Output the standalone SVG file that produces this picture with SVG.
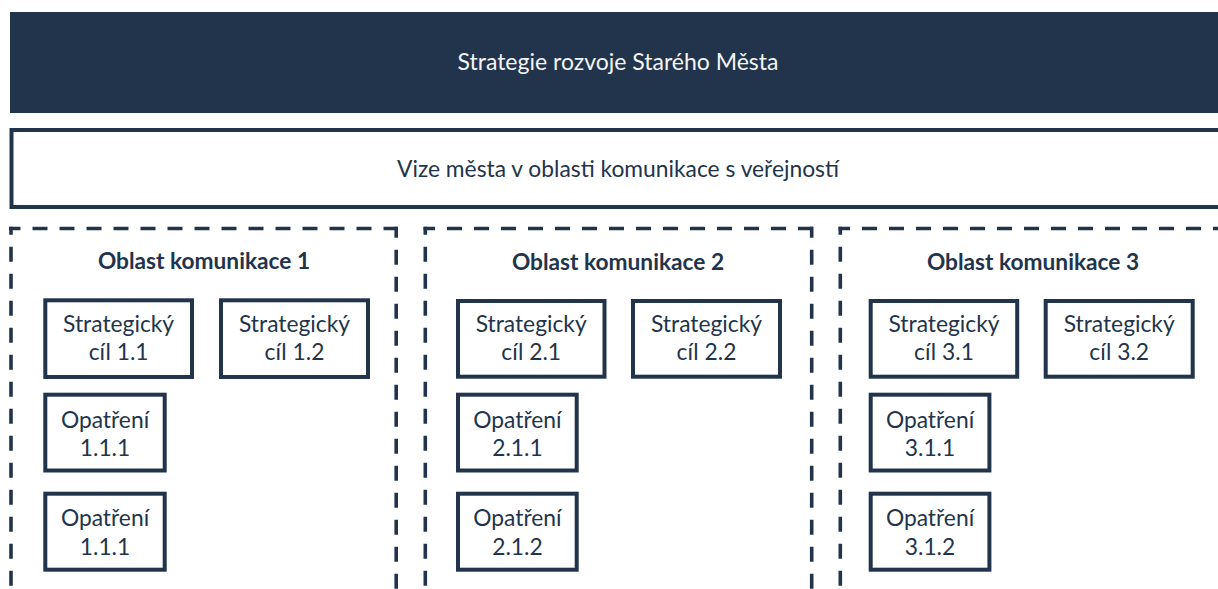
<svg xmlns="http://www.w3.org/2000/svg" width="1218" height="589" viewBox="0 0 1218 589">
<style>
  .dark { fill: #22344b; }
  .frame { fill: #ffffff; stroke: #22344b; stroke-width: 4; }
  .dash { fill: none; stroke: #22344b; stroke-width: 3.6; stroke-dasharray: 15 12; }
  .t { font-family: Lato, "Open Sans", "Liberation Sans", sans-serif; fill: #22344b; text-anchor: middle; }
  .head { font-size: 23px; fill: #f4f5f7; }
  .vis { font-size: 22.8px; }
  .area { font-size: 22.7px; font-weight: bold; }
  .box { font-size: 22.8px; }
</style>
<rect width="1218" height="589" fill="#ffffff"/>

<g id="strategy">
  <rect class="dark" x="10" y="12" width="1220" height="101"/>
  <text class="t head" x="618" y="70">Strategie rozvoje Starého Města</text>
</g>

<g id="vision">
  <rect class="frame" x="11.5" y="130" width="1220" height="77"/>
  <text class="t vis" x="618" y="177">Vize města v oblasti komunikace s veřejností</text>
</g>

<g id="area1">
  <line class="dash" x1="9" y1="228.5" x2="398" y2="228.5" stroke-dashoffset="3.5"/>
  <line class="dash" x1="11" y1="226.7" x2="11" y2="600" stroke-dashoffset="7"/>
  <line class="dash" x1="396.2" y1="226.7" x2="396.2" y2="600" stroke-dashoffset="4"/>
  <text class="t area" x="204" y="269">Oblast komunikace 1</text>
</g>
<g id="area2">
  <line class="dash" x1="423.5" y1="228.5" x2="813.5" y2="228.5" stroke-dashoffset="3.5"/>
  <line class="dash" x1="425.3" y1="226.7" x2="425.3" y2="600" stroke-dashoffset="7"/>
  <line class="dash" x1="811.7" y1="226.7" x2="811.7" y2="600" stroke-dashoffset="4"/>
  <text class="t area" x="618" y="270">Oblast komunikace 2</text>
</g>
<g id="area3">
  <line class="dash" x1="838.5" y1="228.5" x2="1230" y2="228.5" stroke-dashoffset="3.5"/>
  <line class="dash" x1="840.3" y1="226.7" x2="840.3" y2="600" stroke-dashoffset="7"/>
  <text class="t area" x="1033" y="270">Oblast komunikace 3</text>
</g>

<g id="cil-1-1">
  <rect class="frame" x="45.3" y="300.3" width="146.7" height="76.7"/>
  <text class="t box" x="118.6" y="332">Strategický</text>
  <text class="t box" x="118.6" y="360">cíl 1.1</text>
</g>
<g id="cil-1-2">
  <rect class="frame" x="221" y="300.3" width="147" height="76.7"/>
  <text class="t box" x="294.5" y="332">Strategický</text>
  <text class="t box" x="294.5" y="360">cíl 1.2</text>
</g>
<g id="opatreni-1-1-1-a">
  <rect class="frame" x="45.3" y="394.7" width="119.4" height="75.8"/>
  <text class="t box" x="105" y="428">Opatření</text>
  <text class="t box" x="105" y="456">1.1.1</text>
</g>
<g id="opatreni-1-1-1-b">
  <rect class="frame" x="45.3" y="493.7" width="119.4" height="76"/>
  <text class="t box" x="105" y="526">Opatření</text>
  <text class="t box" x="105" y="555">1.1.1</text>
</g>

<g id="cil-2-1">
  <rect class="frame" x="458" y="301" width="146.5" height="75.7"/>
  <text class="t box" x="531.2" y="332">Strategický</text>
  <text class="t box" x="531.2" y="360">cíl 2.1</text>
</g>
<g id="cil-2-2">
  <rect class="frame" x="633" y="301" width="147" height="75.7"/>
  <text class="t box" x="706.5" y="332">Strategický</text>
  <text class="t box" x="706.5" y="360">cíl 2.2</text>
</g>
<g id="opatreni-2-1-1">
  <rect class="frame" x="458" y="394.7" width="118.7" height="75.8"/>
  <text class="t box" x="517.4" y="428">Opatření</text>
  <text class="t box" x="517.4" y="456">2.1.1</text>
</g>
<g id="opatreni-2-1-2">
  <rect class="frame" x="458" y="493.7" width="118.7" height="76"/>
  <text class="t box" x="517.4" y="526">Opatření</text>
  <text class="t box" x="517.4" y="555">2.1.2</text>
</g>

<g id="cil-3-1">
  <rect class="frame" x="870.7" y="301" width="146.5" height="75.7"/>
  <text class="t box" x="944" y="332">Strategický</text>
  <text class="t box" x="944" y="360">cíl 3.1</text>
</g>
<g id="cil-3-2">
  <rect class="frame" x="1045.7" y="301" width="147" height="75.7"/>
  <text class="t box" x="1119.2" y="332">Strategický</text>
  <text class="t box" x="1119.2" y="360">cíl 3.2</text>
</g>
<g id="opatreni-3-1-1">
  <rect class="frame" x="870.7" y="394.7" width="118.7" height="75.8"/>
  <text class="t box" x="930" y="428">Opatření</text>
  <text class="t box" x="930" y="456">3.1.1</text>
</g>
<g id="opatreni-3-1-2">
  <rect class="frame" x="870.7" y="493.7" width="118.7" height="76"/>
  <text class="t box" x="930" y="526">Opatření</text>
  <text class="t box" x="930" y="555">3.1.2</text>
</g>

<g id="connectors"/>
</svg>
